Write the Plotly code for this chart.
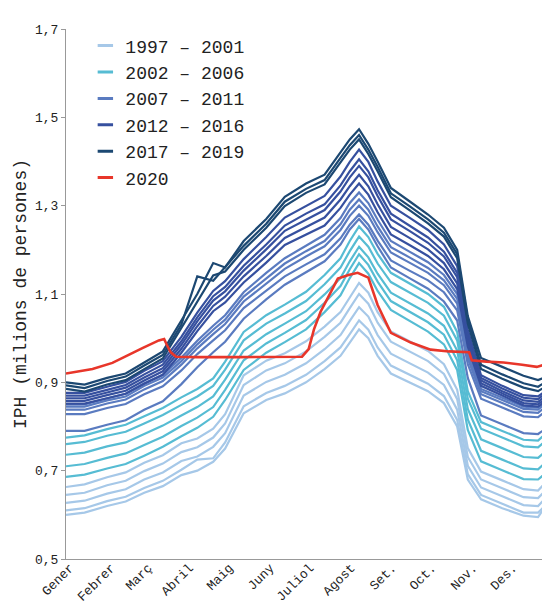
import plotly.graph_objects as go

days = [1, 15, 32, 46, 60, 74, 88, 100, 112, 121, 135, 152, 166, 182, 196, 208, 215, 222, 229, 236,
        246, 260, 274, 286, 296, 304, 314, 330, 346, 357, 365]

y1997 = [0.600,0.605,0.620,0.630,0.650,0.665,0.690,0.700,0.720,0.750,0.830,0.860,0.875,0.900,0.930,0.960,0.990,1.020,1.000,0.960,0.920,0.900,0.880,0.853,0.800,0.680,0.635,0.615,0.598,0.595,0.630]
y1998 = [0.610,0.615,0.631,0.641,0.661,0.677,0.702,0.725,0.728,0.764,0.846,0.876,0.892,0.917,0.948,0.979,1.009,1.040,1.019,0.979,0.938,0.917,0.897,0.869,0.815,0.692,0.645,0.625,0.605,0.605,0.628]
y1999 = [0.627,0.632,0.648,0.658,0.680,0.696,0.722,0.732,0.754,0.785,0.870,0.901,0.917,0.943,0.975,1.007,1.039,1.070,1.049,1.007,0.965,0.943,0.922,0.894,0.838,0.711,0.662,0.642,0.622,0.620,0.645]
y2000 = [0.645,0.650,0.667,0.677,0.699,0.716,0.742,0.753,0.775,0.807,0.894,0.927,0.943,0.970,1.003,1.035,1.068,1.100,1.078,1.035,0.992,0.970,0.948,0.919,0.862,0.731,0.680,0.660,0.640,0.638,0.662]
y2001 = [0.663,0.669,0.685,0.696,0.718,0.735,0.762,0.773,0.795,0.828,0.916,0.949,0.966,0.993,1.026,1.059,1.092,1.125,1.103,1.059,1.015,0.993,0.971,0.941,0.883,0.751,0.698,0.678,0.658,0.655,0.680]
y2002 = [0.686,0.691,0.705,0.715,0.734,0.754,0.778,0.797,0.822,0.860,0.928,0.967,0.991,1.020,1.059,1.097,1.136,1.170,1.146,1.107,1.064,1.039,1.015,0.986,0.928,0.792,0.721,0.701,0.681,0.680,0.700]
y2003 = [0.710,0.715,0.729,0.739,0.758,0.777,0.801,0.820,0.844,0.883,0.950,0.988,1.012,1.041,1.080,1.118,1.156,1.190,1.166,1.128,1.084,1.060,1.036,1.008,0.950,0.816,0.745,0.725,0.705,0.703,0.725]
y2004 = [0.736,0.741,0.755,0.764,0.783,0.802,0.825,0.844,0.868,0.906,0.972,1.009,1.033,1.061,1.099,1.136,1.174,1.207,1.183,1.146,1.103,1.080,1.056,1.028,0.972,0.840,0.771,0.751,0.731,0.729,0.750]
y2005 = [0.760,0.765,0.779,0.788,0.807,0.826,0.849,0.868,0.892,0.929,0.995,1.033,1.056,1.084,1.122,1.160,1.197,1.230,1.207,1.169,1.127,1.103,1.080,1.051,0.995,0.863,0.795,0.775,0.755,0.753,0.773]
y2006 = [0.775,0.780,0.794,0.804,0.823,0.842,0.866,0.885,0.909,0.947,1.014,1.052,1.076,1.105,1.143,1.181,1.220,1.253,1.229,1.191,1.148,1.124,1.100,1.071,1.014,0.880,0.810,0.790,0.770,0.768,0.790]
y2007 = [0.790,0.790,0.804,0.814,0.838,0.857,0.896,0.934,0.968,0.992,1.044,1.088,1.121,1.150,1.174,1.212,1.246,1.270,1.246,1.208,1.160,1.136,1.112,1.083,1.040,0.910,0.825,0.805,0.785,0.783,0.800]
y2008 = [0.828,0.828,0.842,0.851,0.873,0.891,0.927,0.964,0.995,1.018,1.068,1.108,1.140,1.167,1.190,1.226,1.257,1.280,1.257,1.221,1.176,1.153,1.131,1.104,1.063,0.941,0.863,0.843,0.823,0.821,0.840]
y2009 = [0.838,0.838,0.852,0.861,0.884,0.903,0.940,0.977,1.009,1.032,1.083,1.124,1.157,1.185,1.208,1.245,1.277,1.300,1.277,1.240,1.194,1.171,1.148,1.120,1.078,0.954,0.873,0.853,0.833,0.831,0.850]
y2010 = [0.845,0.845,0.859,0.868,0.892,0.911,0.948,0.986,1.019,1.042,1.094,1.136,1.169,1.197,1.220,1.258,1.291,1.314,1.291,1.253,1.206,1.183,1.159,1.131,1.089,0.962,0.880,0.860,0.840,0.838,0.858]
y2011 = [0.850,0.850,0.864,0.874,0.898,0.917,0.956,0.994,1.028,1.052,1.104,1.148,1.181,1.210,1.234,1.272,1.306,1.330,1.306,1.268,1.220,1.196,1.172,1.143,1.100,0.970,0.885,0.865,0.845,0.843,0.862]
y2012 = [0.852,0.852,0.864,0.874,0.897,0.917,0.967,1.016,1.061,1.081,1.126,1.171,1.211,1.235,1.255,1.295,1.325,1.350,1.325,1.285,1.235,1.211,1.186,1.156,1.111,0.981,0.892,0.870,0.848,0.845,0.862]
y2013 = [0.858,0.858,0.871,0.881,0.904,0.925,0.976,1.027,1.073,1.094,1.140,1.186,1.227,1.252,1.273,1.314,1.344,1.370,1.344,1.303,1.252,1.227,1.201,1.170,1.124,0.991,0.898,0.875,0.853,0.850,0.868]
y2014 = [0.864,0.864,0.877,0.888,0.911,0.932,0.985,1.038,1.085,1.106,1.153,1.201,1.243,1.269,1.290,1.332,1.364,1.390,1.364,1.322,1.269,1.243,1.216,1.185,1.138,1.001,0.904,0.880,0.859,0.856,0.874]
y2015 = [0.870,0.870,0.883,0.894,0.918,0.940,0.993,1.047,1.095,1.116,1.164,1.212,1.255,1.282,1.303,1.346,1.378,1.405,1.378,1.335,1.282,1.255,1.228,1.196,1.148,1.009,0.910,0.886,0.865,0.862,0.880]
y2016 = [0.876,0.876,0.890,0.901,0.926,0.948,1.003,1.058,1.107,1.129,1.179,1.229,1.273,1.300,1.322,1.366,1.399,1.427,1.399,1.355,1.300,1.273,1.245,1.212,1.163,1.019,0.916,0.892,0.871,0.868,0.886]
y2017 = [0.885,0.879,0.895,0.905,0.930,0.954,1.023,1.082,1.142,1.151,1.200,1.250,1.299,1.329,1.348,1.398,1.427,1.450,1.417,1.378,1.319,1.290,1.260,1.230,1.181,1.033,0.930,0.908,0.888,0.880,0.895]
y2018 = [0.893,0.887,0.903,0.913,0.938,0.962,1.031,1.140,1.130,1.160,1.209,1.259,1.309,1.338,1.358,1.408,1.437,1.460,1.427,1.388,1.328,1.299,1.269,1.239,1.190,1.042,0.940,0.918,0.898,0.890,0.905]
y2019 = [0.900,0.895,0.910,0.920,0.945,0.970,1.040,1.100,1.170,1.160,1.220,1.270,1.320,1.350,1.370,1.420,1.450,1.473,1.440,1.400,1.340,1.310,1.280,1.250,1.200,1.050,0.955,0.935,0.915,0.905,0.915]

days_2020 = [1, 10, 21, 36, 51, 59, 71, 75, 77, 80, 84, 100, 130, 160, 179, 184, 188, 193, 199, 206, 214,
             221, 229, 236, 246, 261, 276, 290, 305, 307, 318, 331, 345, 356, 366]
y2020 = [0.920, 0.925, 0.930, 0.944, 0.965, 0.978, 0.995, 0.998, 0.985, 0.968, 0.958, 0.957, 0.957, 0.957,
         0.958, 0.975, 1.020, 1.060, 1.094, 1.135, 1.143, 1.148, 1.137, 1.075, 1.012, 0.990, 0.974, 0.970,
         0.968, 0.950, 0.947, 0.945, 0.940, 0.935, 0.944]

groups = ["1997 – 2001", "2002 – 2006", "2007 – 2011", "2012 – 2016", "2017 – 2019"]
group_colors = ["#a6c8e8", "#56bcd3", "#5a7bc0", "#36509f", "#1c4872"]
red = "#e8362a"

series = [
    (y1997, 0), (y1998, 0), (y1999, 0), (y2000, 0), (y2001, 0),
    (y2002, 1), (y2003, 1), (y2004, 1), (y2005, 1), (y2006, 1),
    (y2007, 2), (y2008, 2), (y2009, 2), (y2010, 2), (y2011, 2),
    (y2012, 3), (y2013, 3), (y2014, 3), (y2015, 3), (y2016, 3),
    (y2017, 4), (y2018, 4), (y2019, 4),
]

month_ticks = [1, 32, 60, 91, 121, 152, 182, 213, 244, 274, 305, 335]
month_labels = ["Gener", "Febrer", "Març", "Abril", "Maig", "Juny", "Juliol", "Agost", "Set.", "Oct.", "Nov.", "Des."]
y_ticks = [0.5, 0.7, 0.9, 1.1, 1.3, 1.5, 1.7]
y_labels = ["0,5", "0,7", "0,9", "1,1", "1,3", "1,5", "1,7"]

FONT = "Liberation Mono"
fig = go.Figure()
for vals, g in series:
    fig.add_trace(go.Scatter(x=days, y=vals, mode="lines", showlegend=False,
                             line=dict(color=group_colors[g], width=2.2), hoverinfo="skip"))
fig.add_trace(go.Scatter(x=days_2020, y=y2020, mode="lines", showlegend=False,
                         line=dict(color=red, width=2.6), hoverinfo="skip"))

for name, c in list(zip(groups, group_colors)) + [("2020", red)]:
    fig.add_trace(go.Scatter(x=[None], y=[None], mode="markers", name=name,
                             marker=dict(symbol="line-ew", size=11, color=c,
                                         line=dict(width=3, color=c))))

# page body has an 8px margin, so the figure is sized to fill the rest of the 550x604 window
fig.update_layout(
    width=542, height=596,
    margin=dict(l=58, r=0, t=21, b=45, autoexpand=False),
    plot_bgcolor="white", paper_bgcolor="white",
    font=dict(family=FONT, color="#222222"),
    showlegend=True,
    legend=dict(x=0.04, y=1.003, xanchor="left", yanchor="top", bgcolor="rgba(0,0,0,0)",
                font=dict(family=FONT, size=18, color="#222222"), tracegroupgap=0,
                itemsizing="trace"),
    hovermode=False,
)
fig.update_xaxes(range=[1, 366], tickmode="array", tickvals=month_ticks, ticktext=month_labels,
                 tickangle=-45, ticks="", showgrid=False, zeroline=False, showline=True,
                 linecolor="#999999", linewidth=1, tickfont=dict(family=FONT, size=13, color="#222222"),
                 ticklabelstandoff=-5, ticklabelshift=4,
                 automargin=False)
fig.update_yaxes(range=[0.5, 1.7], tickmode="array", tickvals=y_ticks, ticktext=y_labels,
                 ticks="outside", ticklen=4, tickcolor="#999999", showgrid=False, zeroline=False,
                 showline=True, linecolor="#999999", linewidth=1,
                 tickfont=dict(family=FONT, size=13, color="#222222"),
                 title=dict(text="IPH (milions de persones)", font=dict(family=FONT, size=18, color="#222222"),
                            standoff=3),
                 automargin=False)

fig.write_html("out.html")
